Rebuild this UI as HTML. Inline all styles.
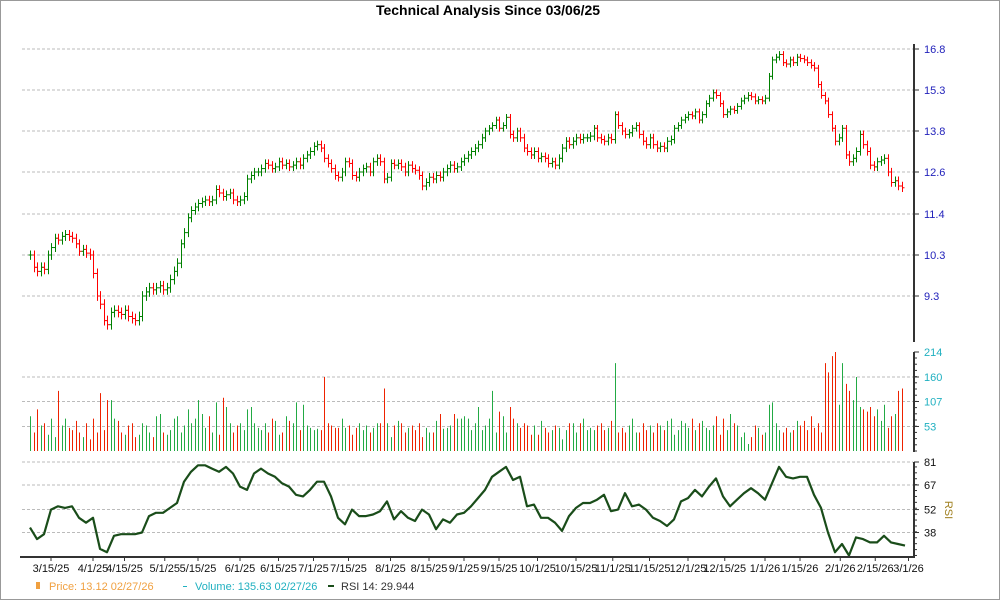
<!DOCTYPE html>
<html><head><meta charset="utf-8"><style>
body{margin:0;background:#fff;}
svg{display:block;font-family:"Liberation Sans",Arial,sans-serif;}
</style></head><body>
<svg id="chart" width="1000" height="600" viewBox="0 0 1000 600" xmlns="http://www.w3.org/2000/svg">
<rect x="0.5" y="0.5" width="999" height="599" fill="#fff" stroke="#999"/>
<text x="488" y="15" text-anchor="middle" font-size="14" font-weight="bold">Technical Analysis Since 03/06/25</text>
<g id="grid"></g>
<g id="price"></g>
<g id="volume"></g>
<g id="rsi"></g>
<g id="axes"></g>
<g font-size="11">
<rect x="36" y="582" width="4" height="7" fill="#f0a040"/>
<text x="49" y="590" fill="#f0a040">Price: 13.12  02/27/26</text>
<rect x="183" y="586" width="4" height="1" fill="#20b0c0"/>
<text x="195" y="590" fill="#20b0c0">Volume: 135.63  02/27/26</text>
<rect x="328" y="585" width="6" height="2" fill="#1a4d1a"/>
<text x="341" y="590" fill="#333">RSI 14: 29.944</text>
</g>
<text x="945" y="510" font-size="11" fill="#a08020" transform="rotate(90 945 510)" text-anchor="middle">RSI</text>
</svg>
<script>
const closes=[10.3,10.0,9.9,10.0,9.95,10.3,10.5,10.75,10.7,10.8,
10.85,10.8,10.75,10.6,10.4,10.45,10.35,10.3,9.85,9.3,
9.1,8.7,8.6,8.9,8.95,8.9,8.85,8.95,8.8,8.75,
8.7,8.8,9.3,9.4,9.5,9.45,9.5,9.55,9.45,9.5,
9.7,9.9,10.1,10.6,10.9,11.3,11.5,11.6,11.7,11.75,
11.8,11.75,11.8,12.1,12.0,11.9,11.95,12.0,11.8,11.75,
11.8,11.9,12.4,12.5,12.6,12.6,12.7,12.85,12.8,12.7,
12.75,12.9,12.8,12.85,12.75,12.8,12.9,12.8,13.0,13.1,
13.2,13.35,13.4,13.3,13.0,12.85,12.7,12.5,12.45,12.6,
12.9,12.85,12.5,12.45,12.6,12.7,12.75,12.6,12.9,13.0,
12.9,12.4,12.45,12.85,12.8,12.85,12.75,12.6,12.8,12.7,
12.65,12.5,12.2,12.3,12.45,12.4,12.5,12.45,12.6,12.7,
12.8,12.7,12.75,12.9,13.0,13.1,13.2,13.3,13.4,13.6,
13.8,13.9,14.0,14.2,13.9,14.0,14.3,13.7,13.6,13.8,
13.6,13.3,13.2,13.1,13.2,13.0,13.05,13.0,12.85,12.9,
12.8,13.0,13.3,13.5,13.4,13.5,13.6,13.55,13.6,13.6,
13.65,13.9,13.6,13.55,13.5,13.6,13.55,14.4,14.0,13.8,
13.7,13.75,13.9,14.0,13.7,13.5,13.4,13.6,13.4,13.3,
13.35,13.3,13.5,13.55,13.9,14.0,14.2,14.3,14.4,14.35,
14.5,14.2,14.4,14.8,15.0,15.2,15.1,14.8,14.4,14.5,
14.6,14.55,14.7,14.9,15.0,15.1,15.05,14.9,14.95,14.9,
15.0,15.8,16.4,16.5,16.6,16.3,16.25,16.4,16.3,16.5,
16.45,16.4,16.3,16.2,16.1,15.5,15.1,14.9,14.4,13.9,
13.5,13.6,13.9,13.1,12.9,13.0,13.2,13.7,13.4,13.2,
12.8,12.75,12.9,12.95,13.0,12.6,12.3,12.35,12.2,12.15];
const volumes=[75,40,90,55,60,35,70,30,130,55,
70,50,45,65,40,30,60,25,70,40,
125,45,110,110,70,65,40,35,55,60,
30,35,60,55,40,30,75,80,40,35,
45,70,75,40,55,90,60,70,110,80,
50,75,40,105,35,115,95,60,40,55,
60,45,90,95,60,50,45,60,40,70,
65,35,40,75,65,60,105,45,100,55,
50,45,48,45,160,60,55,50,50,70,
50,55,35,50,60,45,55,40,50,60,
60,135,60,30,55,65,60,40,50,55,
45,60,30,50,40,40,65,80,48,50,
55,80,70,70,75,70,45,60,95,45,
55,70,130,40,85,75,40,95,70,60,
50,60,55,35,55,35,65,50,40,45,
55,50,25,45,60,60,40,60,70,45,
50,45,55,60,45,50,65,190,40,50,
40,55,70,40,40,60,45,55,40,60,
55,45,65,70,35,45,65,60,50,70,
45,60,65,50,45,55,75,35,70,45,
80,60,55,30,40,15,30,55,50,35,
40,100,105,60,45,40,50,40,45,65,
55,65,45,75,50,60,40,190,170,205,
214,100,190,145,130,110,160,95,90,85,
95,75,90,65,100,50,75,80,130,135];
// RSI sampled every 2 trading days
const rsiValues=[41,34,37,52,54,53,54,47,44,47,28,26,36,37,37,37,38,48,50,50,
53,56,69,75,79,79,77,75,78,74,66,64,74,77,74,72,68,66,61,60,
64,69,69,60,47,43,52,48,48,49,51,57,46,51,47,45,52,49,40,46,
44,49,50,54,59,64,72,75,78,70,72,54,55,47,47,44,39,48,53,56,
56,58,61,51,52,62,54,55,52,47,45,42,46,57,59,64,60,66,71,60,
54,58,62,65,62,58,68,78,72,71,72,72,61,53,38,26,31,24,35,34,
32,32,36,32,31,30];
const priceTicks=[9.3,10.3,11.4,12.6,13.8,15.3,16.8];
const volumeTicks=[53,107,160,214];
const rsiTicks=[38,52,67,81];
const dateLabels=["3/15/25","4/1/25","4/15/25","5/1/25","5/15/25","6/1/25","6/15/25","7/1/25","7/15/25","8/1/25","8/15/25","9/1/25","9/15/25","10/1/25","10/15/25","11/1/25","11/15/25","12/1/25","12/15/25","1/1/26","1/15/26","2/1/26","2/15/26","3/1/26"];
const dateIndex=[6,18,27,38.5,48,60,71,81,91,103,114,124,134,145,156,166.5,177,188,198.5,210,220,231.5,241.5,251];

const NS="http://www.w3.org/2000/svg";
function mk(tag,attrs,parent){const e=document.createElementNS(NS,tag);for(const k in attrs)e.setAttribute(k,attrs[k]);parent.appendChild(e);return e;}
const X0=30,DX=3.5,LEFT=22,RIGHT=913;
function xDay(i){return X0+i*DX;}
const pY=[296,255,214,172,131,90,49];
function yPrice(v){
  const t=priceTicks;let k=0;
  if(v<=t[0])k=0;else if(v>=t[t.length-1])k=t.length-2;else{while(v>t[k+1])k++;}
  return pY[k]+(v-t[k])*(pY[k+1]-pY[k])/(t[k+1]-t[k]);
}
const VB=451,VT=352,VMAX=214;
function yVol(v){return VB-v*(VB-VT)/VMAX;}
function yRsi(v){return 462+(81-v)*(23.5/14.33);}

const grid=document.getElementById('grid');
priceTicks.forEach(t=>{const l=mk('line',{x1:LEFT,x2:RIGHT,y1:yPrice(t),y2:yPrice(t),stroke:'#bbb','stroke-dasharray':'3,2'},grid);

});
volumeTicks.slice(0,3).forEach(t=>{const l=mk('line',{x1:LEFT,x2:RIGHT,y1:yVol(t),y2:yVol(t),stroke:'#bbb','stroke-dasharray':'3,2'},grid);

});
rsiTicks.forEach(t=>{const l=mk('line',{x1:LEFT,x2:RIGHT,y1:yRsi(t),y2:yRsi(t),stroke:'#bbb','stroke-dasharray':'3,2'},grid);

});

const pg=document.getElementById('price');
const vg=document.getElementById('volume');
closes.forEach((c,i)=>{
  const o=i>0?closes[i-1]:c;
  const hi=Math.max(o,c)+0.12,lo=Math.min(o,c)-0.12;
  const col=c>=o?'#008000':'#ff0000';
  const x=Math.round(xDay(i))+0.5;
  const g=mk('g',{stroke:col,'stroke-width':1},pg);
  
  
  mk('line',{x1:x,x2:x,y1:yPrice(hi),y2:yPrice(lo)},g);
  mk('line',{x1:x-2,x2:x,y1:yPrice(o),y2:yPrice(o)},g);
  mk('line',{x1:x,x2:x+2,y1:yPrice(c),y2:yPrice(c)},g);
  const vb=mk('line',{x1:x,x2:x,y1:VB,y2:yVol(volumes[i]),stroke:c>=o?'#22aa44':'#ee2200','stroke-width':1},vg);
  
  
});

const rg=document.getElementById('rsi');
const pts=rsiValues.map((v,k)=>xDay(k*2).toFixed(1)+','+yRsi(v).toFixed(1)).join(' ');
const pl=mk('polyline',{points:pts,fill:'none',stroke:'#1a4d1a','stroke-width':2.2,'stroke-linejoin':'round'},rg);



const ax=document.getElementById('axes');
function vline(y1,y2){mk('line',{x1:914,x2:914,y1:y1,y2:y2,stroke:'#333','stroke-width':2},ax);}
vline(44,342);vline(352,452);vline(462,557);
mk('line',{x1:20,x2:915,y1:557,y2:557,stroke:'#333','stroke-width':2},ax);
priceTicks.forEach(t=>{const y=yPrice(t);
  mk('line',{x1:914,x2:919,y1:y,y2:y,stroke:'#333'},ax);
  const tx=mk('text',{x:924,y:y+4,'font-size':11,fill:'#2222bb'},ax);tx.textContent=t.toFixed(1);
  
  });
for(let v=0;v<=VMAX;v+=13.4){const y=yVol(v);mk('line',{x1:914,x2:917,y1:y,y2:y,stroke:'#333'},ax);}
volumeTicks.forEach(t=>{const y=yVol(t);
  mk('line',{x1:914,x2:919,y1:y,y2:y,stroke:'#333'},ax);
  const tx=mk('text',{x:924,y:y+4,'font-size':11,fill:'#20b0c0'},ax);tx.textContent=t;
  
  });
for(let v=24;v<=81;v+=3.6){const y=yRsi(v);mk('line',{x1:914,x2:917,y1:y,y2:y,stroke:'#333'},ax);}
rsiTicks.forEach(t=>{const y=yRsi(t);
  mk('line',{x1:914,x2:919,y1:y,y2:y,stroke:'#333'},ax);
  const tx=mk('text',{x:924,y:y+4,'font-size':11,fill:'#111'},ax);tx.textContent=t;
  
  });
dateLabels.forEach((d,k)=>{const x=xDay(dateIndex[k]);
  mk('line',{x1:x,x2:x,y1:557,y2:561,stroke:'#333'},ax);
  const tx=mk('text',{x:x,y:572,'font-size':11,'text-anchor':'middle',fill:'#111'},ax);tx.textContent=d;
  
  });
</script>
</body></html>
